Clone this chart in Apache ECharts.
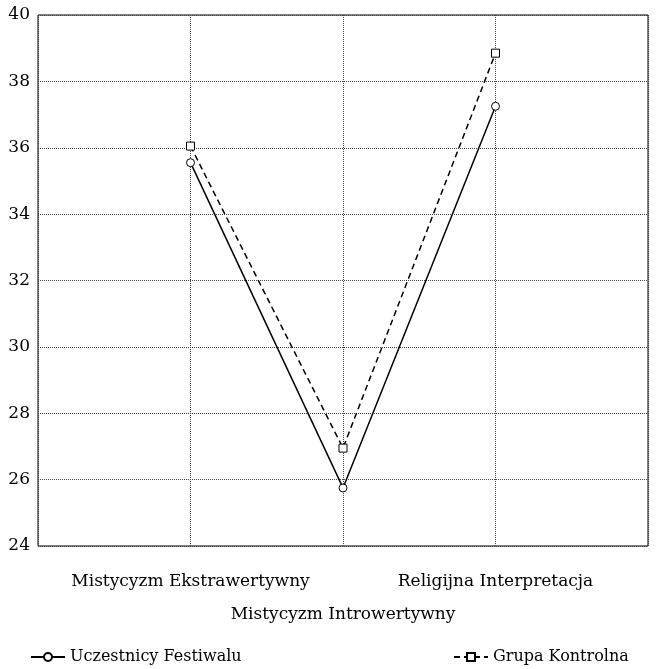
<!DOCTYPE html>
<html><head><meta charset="utf-8">
<script src="https://cdn.jsdelivr.net/npm/echarts@6/dist/echarts.min.js"></script>
<style>html,body{margin:0;padding:0;background:#fff}#c{width:664px;height:669px}</style>
</head><body><div id="c"></div>
<script>
const categories = ['Mistycyzm Ekstrawertywny', 'Mistycyzm Introwertywny', 'Religijna Interpretacja'];
const festiwal = [35.55, 25.75, 37.25];
const kontrolna = [36.05, 26.95, 38.85];
const yTicks = [24, 26, 28, 30, 32, 34, 36, 38, 40];
const seriesNames = ['Uczestnicy Festiwalu', 'Grupa Kontrolna'];

const FONT = 'DejaVu Serif';
const chart = echarts.init(document.getElementById('c'));
const toPts = arr => arr.map((v, i) => [i + 1, v]);
chart.setOption({
  animation: false,
  textStyle: { fontFamily: FONT, color: '#000' },
  grid: { left: 38, right: 16, top: 15, bottom: 123, show: true, borderColor: '#000', borderWidth: 1, backgroundColor: 'transparent' },
  xAxis: {
    type: 'value', min: 0, max: categories.length + 1, interval: 1,
    axisLine: { show: false }, axisTick: { show: false },
    splitLine: { show: true, lineStyle: { color: '#444', type: [1, 1], width: 1 } },
    axisLabel: {
      margin: 19, fontFamily: FONT, fontSize: 17, color: '#000', lineHeight: 33,
      formatter: v => {
        const i = Math.round(v) - 1;
        if (i < 0 || i >= categories.length) return '';
        return (i % 2 === 1 ? '\n' : '') + categories[i];
      }
    }
  },
  yAxis: {
    type: 'value', min: yTicks[0], max: yTicks[yTicks.length - 1], interval: 2,
    axisLine: { show: false }, axisTick: { show: false },
    splitLine: { show: true, lineStyle: { color: '#444', type: [1, 1], width: 1 } },
    axisLabel: { margin: 8, fontFamily: FONT, fontSize: 17, color: '#000' }
  },
  legend: [
    { data: [seriesNames[0]], left: 25, top: 644, itemWidth: 34, itemHeight: 10, itemGap: 6,
      textStyle: { fontFamily: FONT, fontSize: 16, color: '#000' } },
    { data: [seriesNames[1]], left: 448, top: 644, itemWidth: 34, itemHeight: 10,
      textStyle: { fontFamily: FONT, fontSize: 16, color: '#000' } }
  ],
  series: [
    { name: seriesNames[0], type: 'line', data: toPts(festiwal), symbol: 'circle', symbolSize: 8,
      lineStyle: { color: '#000', width: 1.5, type: 'solid' },
      itemStyle: { color: '#fff', borderColor: '#000', borderWidth: 1 } },
    { name: seriesNames[1], type: 'line', data: toPts(kontrolna), symbol: 'rect', symbolSize: 8,
      lineStyle: { color: '#000', width: 1.5, type: [6, 4] },
      itemStyle: { color: '#fff', borderColor: '#000', borderWidth: 1 } }
  ]
});
</script></body></html>
